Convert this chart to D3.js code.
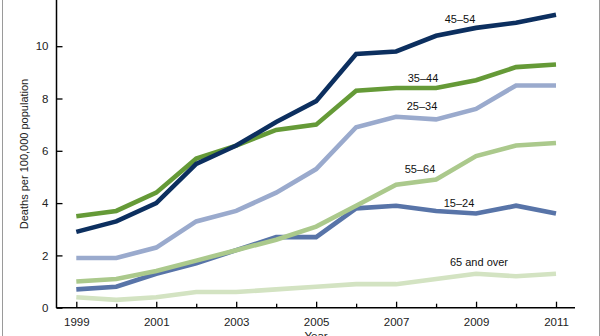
<!DOCTYPE html>
<html>
<head>
<meta charset="utf-8">
<script src="https://cdn.jsdelivr.net/npm/d3@7"></script>
<style>
  body { margin: 0; background: #fff; }
  svg { display: block; font-family: Arial, "Liberation Sans", sans-serif; }
</style>
</head>
<body>
<svg id="chart" width="600" height="336"></svg>
<script>
// data
var years = [1999, 2000, 2001, 2002, 2003, 2004, 2005, 2006, 2007, 2008, 2009, 2010, 2011];
var yearTicks = [1999, 2001, 2003, 2005, 2007, 2009, 2011];
var valueTicks = [0, 2, 4, 6, 8, 10];

var age45to54 = [2.9, 3.3, 4.0, 5.5, 6.2, 7.1, 7.9, 9.7, 9.8, 10.4, 10.7, 10.9, 11.2];
var age35to44 = [3.5, 3.7, 4.4, 5.7, 6.2, 6.8, 7.0, 8.3, 8.4, 8.4, 8.7, 9.2, 9.3];
var age25to34 = [1.9, 1.9, 2.3, 3.3, 3.7, 4.4, 5.3, 6.9, 7.3, 7.2, 7.6, 8.5, 8.5];
var age55to64 = [1.0, 1.1, 1.4, 1.8, 2.2, 2.6, 3.1, 3.9, 4.7, 4.9, 5.8, 6.2, 6.3];
var age15to24 = [0.7, 0.8, 1.3, 1.7, 2.2, 2.7, 2.7, 3.8, 3.9, 3.7, 3.6, 3.9, 3.6];
var age65over = [0.4, 0.3, 0.4, 0.6, 0.6, 0.7, 0.8, 0.9, 0.9, 1.1, 1.3, 1.2, 1.3];

var seriesNames = ['65 and over', '15\u201324', '55\u201364', '25\u201334', '35\u201344', '45\u201354'];
var seriesValues = [age65over, age15to24, age55to64, age25to34, age35to44, age45to54];

var svg = d3.select('#chart');
var width = 600, height = 336;

var colors = {
    '45\u201354': '#0c2f5f',
    '35\u201344': '#659a37',
    '25\u201334': '#9aaacd',
    '55\u201364': '#abc98c',
    '15\u201324': '#5874a8',
    '65 and over': '#d3e3c2'
};

// label placement (year, value offset in px) per series
var labelPos = {
    '45\u201354': {x: 460, y: 23},
    '35\u201344': {x: 423, y: 82},
    '25\u201334': {x: 422, y: 110},
    '55\u201364': {x: 420, y: 173},
    '15\u201324': {x: 459, y: 207},
    '65 and over': {x: 479, y: 266}
};

var x = d3.scaleLinear().domain([1999, 2011]).range([76.3, 556]);
var y = d3.scaleLinear().domain([0, 10]).range([307.7, 46.2]);

// frame
svg.append('line').attr('x1', 2.5).attr('x2', 2.5).attr('y1', 0).attr('y2', height)
    .attr('stroke', '#9a9a9a').attr('stroke-width', 1);
svg.append('line').attr('x1', 599.5).attr('x2', 599.5).attr('y1', 0).attr('y2', height)
    .attr('stroke', '#9a9a9a').attr('stroke-width', 1);

var line = d3.line()
    .x(function(d, i) {return x(years[i]);})
    .y(function(d) {return y(d);});

svg.append('g')
    .attr('class', 'lines')
    .selectAll('path')
    .data(seriesValues)
    .join('path')
    .attr('d', function(d) {return line(d);})
    .attr('fill', 'none')
    .attr('stroke', function(d, i) {return colors[seriesNames[i]];})
    .attr('stroke-width', 4.6)
    .attr('stroke-linejoin', 'miter');

// axes
var xAxis = d3.axisBottom(x)
    .tickValues(years)
    .tickSize(-5)
    .tickFormat(function(d) {return yearTicks.indexOf(d) >= 0 ? d : '';});

var gx = svg.append('g')
    .attr('transform', 'translate(0,' + 307.7 + ')')
    .call(xAxis);
gx.select('.domain').remove();
gx.append('line').attr('x1', 56.5).attr('x2', 575).attr('y1', 0).attr('y2', 0)
    .attr('stroke', '#000').attr('stroke-width', 1.5);
gx.selectAll('.tick line')
    .attr('stroke', '#000')
    .attr('stroke-width', 1.3)
    .attr('y2', function(d) {return yearTicks.indexOf(d) >= 0 ? -6 : -4;});
gx.selectAll('.tick text')
    .attr('y', 10)
    .attr('font-size', 11.5)
    .attr('fill', '#222')
    .attr('font-family', 'Arial, "Liberation Sans", sans-serif');

var yAxis = d3.axisLeft(y)
    .tickValues(valueTicks)
    .tickSize(-6)
    .tickFormat(d3.format('d'));

var gy = svg.append('g')
    .attr('transform', 'translate(56.5,0)')
    .call(yAxis);
gy.select('.domain').remove();
gy.append('line').attr('x1', 0).attr('x2', 0).attr('y1', 0).attr('y2', 308)
    .attr('stroke', '#000').attr('stroke-width', 1.5);
gy.selectAll('.tick line').attr('stroke', '#000').attr('stroke-width', 1.3);
gy.selectAll('.tick text')
    .attr('x', -8)
    .attr('font-size', 11.5)
    .attr('fill', '#222')
    .attr('font-family', 'Arial, "Liberation Sans", sans-serif');

// axis titles
svg.append('text')
    .attr('transform', 'translate(28,154) rotate(-90)')
    .attr('text-anchor', 'middle')
    .attr('font-size', 11)
    .attr('fill', '#222')
    .text('Deaths per 100,000 population');

svg.append('text')
    .attr('x', 316)
    .attr('y', 340)
    .attr('text-anchor', 'middle')
    .attr('font-size', 11.5)
    .attr('fill', '#222')
    .text('Year');

// series labels
svg.append('g')
    .attr('class', 'labels')
    .selectAll('text')
    .data(seriesNames)
    .join('text')
    .attr('x', function(d) {return labelPos[d].x;})
    .attr('y', function(d) {return labelPos[d].y;})
    .attr('text-anchor', 'middle')
    .attr('font-size', 11)
    .attr('fill', '#111')
    .text(function(d) {return d;});
</script>
</body>
</html>
